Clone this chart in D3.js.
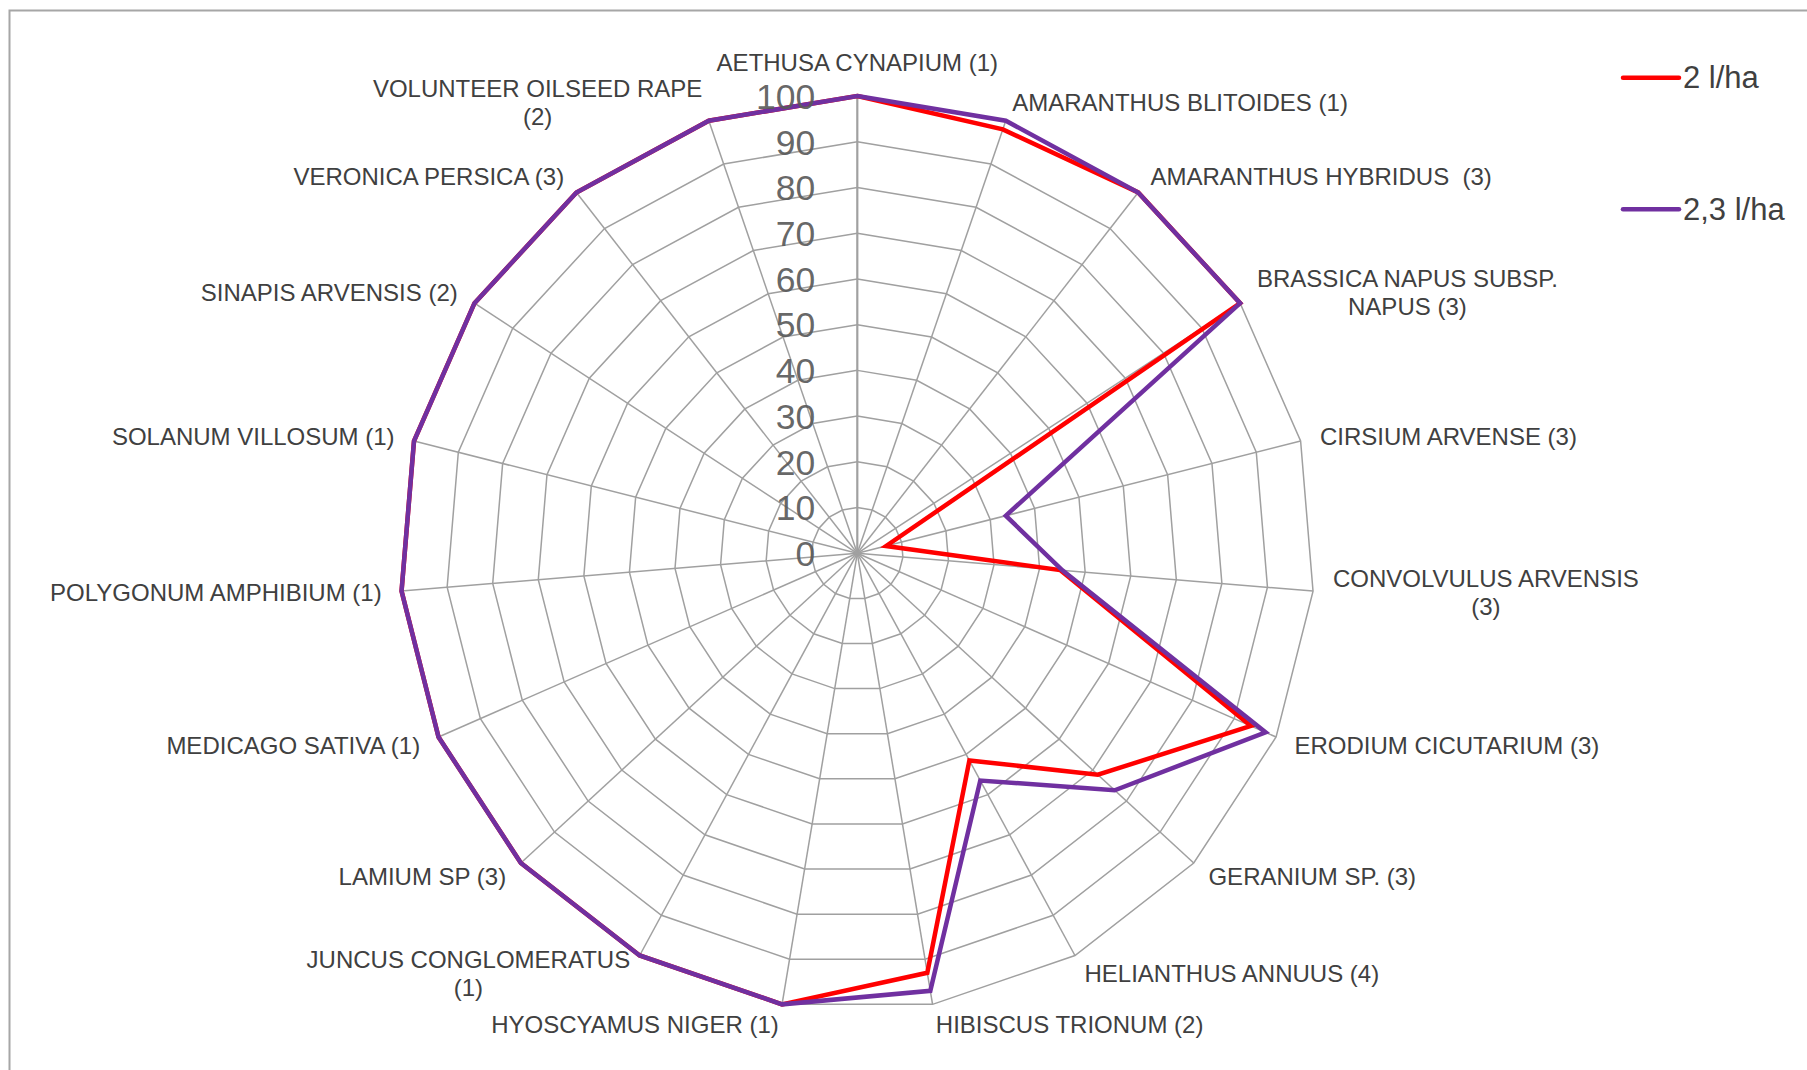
<!DOCTYPE html>
<html>
<head>
<meta charset="utf-8">
<script src="https://cdn.jsdelivr.net/npm/d3@7/dist/d3.min.js"></script>
<style>
  html, body { margin: 0; padding: 0; background: #fff; }
  svg { display: block; font-family: "Liberation Sans", Arial, sans-serif; }
  text { white-space: pre; }
</style>
</head>
<body>
<svg id="chart" width="1807" height="1070"></svg>
<script>
// Weed species (number of observations); "\n" marks a wrapped label line
const categories = [
  "AETHUSA CYNAPIUM (1)",
  "AMARANTHUS BLITOIDES (1)",
  "AMARANTHUS HYBRIDUS  (3)",
  "BRASSICA NAPUS SUBSP.\nNAPUS (3)",
  "CIRSIUM ARVENSE (3)",
  "CONVOLVULUS ARVENSIS\n(3)",
  "ERODIUM CICUTARIUM (3)",
  "GERANIUM SP. (3)",
  "HELIANTHUS ANNUUS (4)",
  "HIBISCUS TRIONUM (2)",
  "HYOSCYAMUS NIGER (1)",
  "JUNCUS CONGLOMERATUS\n(1)",
  "LAMIUM SP (3)",
  "MEDICAGO SATIVA (1)",
  "POLYGONUM AMPHIBIUM (1)",
  "SOLANUM VILLOSUM (1)",
  "SINAPIS ARVENSIS (2)",
  "VERONICA PERSICA (3)",
  "VOLUNTEER OILSEED RAPE\n(2)"
];

// Control efficacy (%) per dose
const seriesNames = ["2 l/ha", "2,3 l/ha"];
const dose2 = [100, 98, 100, 100, 6.5, 44.5, 94, 71.5, 51.5, 93, 100, 100, 100, 100, 100, 100, 100, 100, 100];
const dose23 = [100, 100, 100, 100, 33.5, 45, 97.5, 76.5, 56.5, 97, 100, 100, 100, 100, 100, 100, 100, 100, 100];
const seriesColors = ["#ff0000", "#7030a0"];

// Radial axis ticks
const tickValues = [0, 10, 20, 30, 40, 50, 60, 70, 80, 90, 100];

const svg = d3.select("#chart");
const W = 1807, H = 1070;
const cx = 857.3, cy = 553.3, R = 457.3;

svg.append("rect").attr("width", W).attr("height", H).attr("fill", "#fff");
// chart area frame
svg.append("rect")
  .attr("x", 9.5).attr("y", 10.5).attr("width", W + 20).attr("height", H + 20)
  .attr("fill", "none").attr("stroke", "#a6a6a6").attr("stroke-width", 2);

const n = categories.length;
const r = d3.scaleLinear().domain([0, 100]).range([0, R]);
const angle = d3.scaleLinear().domain([0, n]).range([0, 2 * Math.PI]);
const idx = d3.range(n);

const g = svg.append("g").attr("transform", `translate(${cx},${cy})`);

const pt = (i, v) => {
  const a = angle(i);
  return [r(v) * Math.sin(a), -r(v) * Math.cos(a)];
};

// concentric grid polygons
const gridLine = d3.lineRadial()
  .angle(i => angle(i))
  .curve(d3.curveLinearClosed);
g.append("g").selectAll("path")
  .data(tickValues.filter(t => t > 0))
  .join("path")
  .attr("d", t => gridLine.radius(() => r(t))(idx))
  .attr("fill", "none")
  .attr("stroke", "#a0a0a0")
  .attr("stroke-width", 1.5);

// spokes
g.append("g").selectAll("line")
  .data(idx)
  .join("line")
  .attr("x1", 0).attr("y1", 0)
  .attr("x2", i => pt(i, 100)[0])
  .attr("y2", i => pt(i, 100)[1])
  .attr("stroke", "#a0a0a0")
  .attr("stroke-width", i => i === 0 ? 2.2 : 1.5);

// series lines
const seriesLine = d3.lineRadial()
  .angle((d, i) => angle(i))
  .radius(d => r(d))
  .curve(d3.curveLinearClosed);
[dose2, dose23].forEach((vals, k) => {
  g.append("path")
    .attr("d", seriesLine(vals))
    .attr("fill", "none")
    .attr("stroke", seriesColors[k])
    .attr("stroke-width", 4.5)
    .attr("stroke-linejoin", "miter");
});

// radial tick labels
g.append("g").selectAll("text")
  .data(tickValues)
  .join("text")
  .attr("x", -42)
  .attr("y", t => -r(t))
  .attr("dy", "0.36em")
  .attr("text-anchor", "end")
  .attr("font-size", 35.5)
  .attr("fill", "#595959")
  .attr("fill-opacity", 0.92)
  .text(t => t);

// category labels
const fs = 24, lineH = 28, gap = 20;
const labels = g.append("g").attr("font-size", fs).attr("fill", "#404040");
categories.forEach((name, i) => {
  const lines = name.split("\n");
  const a = angle(i);
  const s = Math.sin(a), c = Math.cos(a);
  const ax = (R + gap) * s, ay = -(R + gap) * c;
  const t = labels.append("text");
  const spans = lines.map((ln, k) => t.append("tspan").text(ln));
  const widths = spans.map(sp => sp.node().getComputedTextLength());
  const boxW = d3.max(widths);
  const boxH = lines.length * lineH;
  let left, midY;
  if (Math.abs(s) < 0.05) {
    left = ax - boxW / 2;
    midY = c > 0 ? ay - boxH / 2 : ay + boxH / 2;
  } else if (s > 0) {
    left = ax;
    midY = ay;
  } else {
    left = ax - boxW;
    midY = ay;
  }
  t.attr("text-anchor", "middle");
  spans.forEach((sp, k) => {
    sp.attr("x", left + boxW / 2)
      .attr("y", midY + (k - (lines.length - 1) / 2) * lineH + 0.36 * fs);
  });
});

// legend
const legend = svg.append("g");
const legendY = [77.7, 209.3];
seriesNames.forEach((nm, k) => {
  legend.append("line")
    .attr("x1", 1623).attr("x2", 1679)
    .attr("y1", legendY[k]).attr("y2", legendY[k])
    .attr("stroke", seriesColors[k])
    .attr("stroke-width", 4.5)
    .attr("stroke-linecap", "round");
  legend.append("text")
    .attr("x", 1683).attr("y", legendY[k])
    .attr("dy", "0.33em")
    .attr("font-size", 31)
    .attr("fill", "#404040")
    .text(nm);
});
</script>
</body>
</html>
